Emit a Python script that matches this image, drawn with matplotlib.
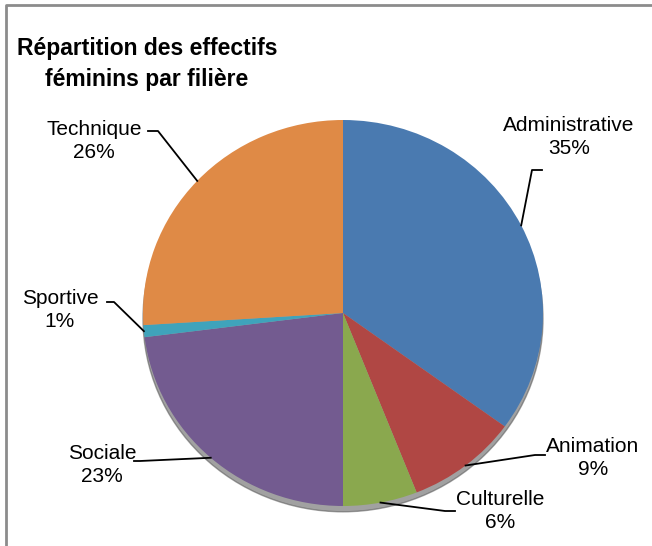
import numpy as np
import matplotlib.pyplot as plt
from matplotlib.patches import Ellipse
from matplotlib.lines import Line2D

# Data
categories = ['Administrative', 'Animation', 'Culturelle', 'Sociale', 'Sportive', 'Technique']
percents = [35, 9, 6, 23, 1, 26]
colors = ['#4a7ab0', '#b04744', '#8aa84e', '#735b90', '#3fa3bb', '#df8a46']

W, H = 652, 546
CX, CY, RX, RY = 343, 313, 200, 193   # pie centre / radii in pixels (top-down)

# label text centre (pixels) and elbow of the leader line
label_pos = {
    'Administrative': ((569, 137), (532, 170), (542, 170)),
    'Animation': ((593, 458), (535, 455), (545, 455)),
    'Culturelle': ((500, 511), (445, 511), (455, 511)),
    'Sociale': ((102, 465), (140, 461), (134, 461)),
    'Sportive': ((60, 310), (114, 302), (107, 302)),
    'Technique': ((94, 141), (158, 131), (148, 131)),
}

family = ['Liberation Sans', 'DejaVu Sans']

fig = plt.figure(figsize=(W / 100, H / 100), dpi=100)
ax = fig.add_axes([(CX - RX) / W, 1 - (CY + RY) / H, 2 * RX / W, 2 * RY / H])
ax.axis('off')


def px(x, y):
    return (x - CX) / RX, (CY - y) / RY


# shadow under the pie
ax.add_patch(Ellipse((0, -0.03), 2.0, 2.0, color='#555555', alpha=0.55,
                     zorder=0, clip_on=False))

wedges, _ = ax.pie(percents, colors=colors, startangle=90, counterclock=False,
                   radius=1, wedgeprops=dict(linewidth=0))
ax.set_aspect('auto')
ax.set_xlim(-1, 1)
ax.set_ylim(-1, 1)

for w, cat, p in zip(wedges, categories, percents):
    w.set_clip_on(False)
    mid = np.deg2rad((w.theta1 + w.theta2) / 2)
    ex, ey = np.cos(mid), np.sin(mid)
    (tx, ty), elbow, end = label_pos[cat]
    bx, by = px(*elbow)
    hx, hy = px(*end)
    ax.add_line(Line2D([ex, bx, hx], [ey, by, hy], color='black', lw=1.3,
                       clip_on=False, zorder=5))
    lx, ly = px(tx, ty)
    ax.text(lx, ly, f'{cat}\n{p}%', ha='center', va='center', fontsize=15,
            family=family, linespacing=1.32, clip_on=False)

fig.text(147 / W, 1 - 64 / H, 'Répartition des effectifs\nféminins par filière',
         ha='center', va='center', fontsize=16.5, fontweight='bold',
         family=family, linespacing=1.42)

# frame (top and left edges visible)
fig.add_artist(Line2D([6 / W, 6 / W, 1], [0, 1 - 5 / H, 1 - 5 / H],
                      transform=fig.transFigure, color='#8c8c8c', lw=2))

fig.savefig('out.png', dpi=100)
